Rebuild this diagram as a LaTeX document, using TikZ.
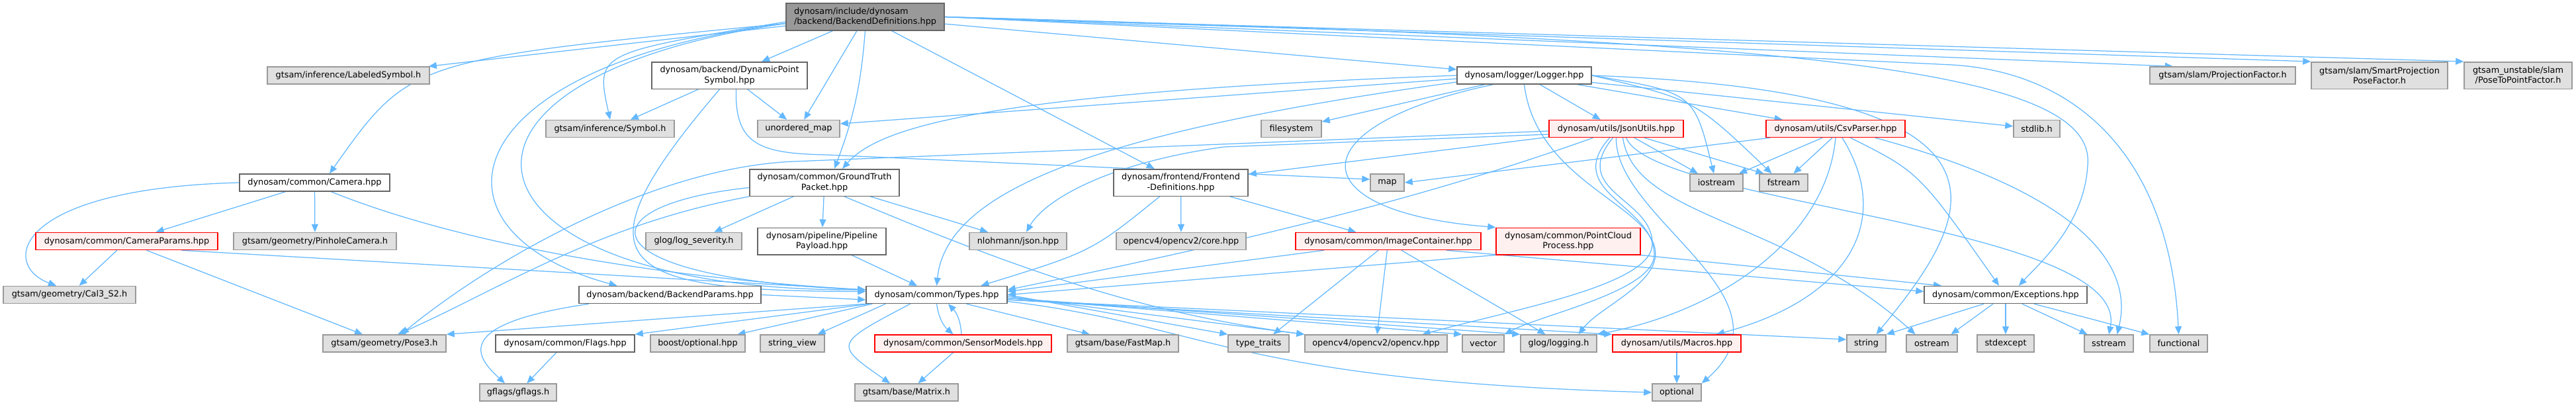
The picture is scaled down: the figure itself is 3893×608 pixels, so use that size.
\documentclass[tikz,border=0pt]{standalone}
\usepackage{fontspec}
\setmainfont{DejaVu Sans}
\usetikzlibrary{arrows.meta}
\definecolor{edgeblue}{HTML}{63B8FF}
\definecolor{boxgray}{HTML}{E0E0E0}
\definecolor{linegray}{HTML}{999999}
\definecolor{darkline}{HTML}{666666}
\definecolor{redfill}{HTML}{FFF0F0}
\pgfdeclarelayer{bg}
\pgfsetlayers{bg,main}
\tikzset{
  hdr/.style={draw, rectangle, inner sep=0pt, minimum height=5.2mm, line width=0.3mm,
    font=\fontsize{7.3pt}{8.6pt}\selectfont, align=center},
  sysfile/.style={hdr, draw=linegray, fill=boxgray},
  docfile/.style={hdr, draw=darkline, fill=white},
  undoc/.style={hdr, draw=red, fill=redfill},
  rootfile/.style={hdr, draw=darkline, fill=linegray},
  tall/.style={minimum height=8.1mm},
  bw/.style={minimum width=#1*0.2mm},
  dep/.style={draw=edgeblue, line width=0.25mm, -{Triangle[length=2.4mm,width=2mm]}}
}
\begin{document}
\begin{tikzpicture}[x=0.2mm,y=-0.2mm]
    \useasboundingbox (0,0) rectangle (3893,608);
    \node[rootfile,bw=239,minimum height=8.2mm,align=left] (r) at (1307.5,25.5) {dynosam/include/dynosam\\/backend/BackendDefinitions.hpp};
    \node[sysfile,bw=245] (labsym) at (526.5,114) {gtsam/inference/LabeledSymbol.h};
    \node[docfile,tall,bw=235] (dps) at (1102.5,114) {dynosam/backend/DynamicPoint\\Symbol.hpp};
    \node[docfile,bw=203] (logger) at (2303.5,114) {dynosam/logger/Logger.hpp};
    \node[sysfile,bw=220] (projfac) at (3359,114) {gtsam/slam/ProjectionFactor.h};
    \node[sysfile,tall,bw=206] (smartproj) at (3596,114) {gtsam/slam/SmartProjection\\PoseFactor.h};
    \node[sysfile,tall,bw=163] (posetopt) at (3805.5,114) {gtsam\_unstable/slam\\/PoseToPointFactor.h};
    \node[sysfile,bw=194] (symbol) at (922,194.5) {gtsam/inference/Symbol.h};
    \node[sysfile,bw=124] (umap) at (1207,194.5) {unordered\_map};
    \node[sysfile,bw=91] (filesys) at (1951.5,194.5) {filesystem};
    \node[undoc,bw=203] (jsonutils) at (2442.5,194.5) {dynosam/utils/JsonUtils.hpp};
    \node[undoc,bw=210] (csvparser) at (2774,194.5) {dynosam/utils/CsvParser.hpp};
    \node[sysfile,bw=70] (stdlib) at (3078,194.5) {stdlib.h};
    \node[docfile,bw=227] (camera) at (475.5,276) {dynosam/common/Camera.hpp};
    \node[docfile,tall,bw=226] (gtpacket) at (1246,276) {dynosam/common/GroundTruth\\Packet.hpp};
    \node[docfile,tall,bw=203] (frontend) at (1784.5,276) {dynosam/frontend/Frontend\\-Definitions.hpp};
    \node[sysfile,bw=51] (map) at (2096.5,276) {map};
    \node[sysfile,bw=80] (iostream) at (2594,276) {iostream};
    \node[sysfile,bw=73] (fstream) at (2695.5,276) {fstream};
    \node[undoc,bw=275] (camparams) at (191.5,364.5) {dynosam/common/CameraParams.hpp};
    \node[sysfile,bw=246] (pinhole) at (476,364.5) {gtsam/geometry/PinholeCamera.h};
    \node[sysfile,bw=145] (logsev) at (1048.5,364.5) {glog/log\_severity.h};
    \node[docfile,tall,bw=194] (pipeline) at (1242,364.5) {dynosam/pipeline/Pipeline\\Payload.hpp};
    \node[sysfile,bw=147] (nlohmann) at (1538.5,364.5) {nlohmann/json.hpp};
    \node[sysfile,bw=196] (cvcore) at (1785,364.5) {opencv4/opencv2/core.hpp};
    \node[undoc,bw=280] (imgcont) at (2098,364.5) {dynosam/common/ImageContainer.hpp};
    \node[undoc,tall,bw=218] (pcproc) at (2370,364.5) {dynosam/common/PointCloud\\Process.hpp};
    \node[sysfile,bw=200] (cal3) at (105,445.5) {gtsam/geometry/Cal3\_S2.h};
    \node[docfile,bw=275] (bparams) at (1012.5,445.5) {dynosam/backend/BackendParams.hpp};
    \node[docfile,bw=213] (types) at (1415.5,445.5) {dynosam/common/Types.hpp};
    \node[docfile,bw=246] (excepts) at (3031,445.5) {dynosam/common/Exceptions.hpp};
    \node[sysfile,bw=186] (pose3) at (581,519) {gtsam/geometry/Pose3.h};
    \node[docfile,bw=210] (flags) at (854,519) {dynosam/common/Flags.hpp};
    \node[sysfile,bw=143] (boostopt) at (1054.5,519) {boost/optional.hpp};
    \node[sysfile,bw=97] (strview) at (1197.5,519) {string\_view};
    \node[undoc,bw=267] (sensor) at (1455.5,519) {dynosam/common/SensorModels.hpp};
    \node[sysfile,bw=168] (fastmap) at (1697,519) {gtsam/base/FastMap.h};
    \node[sysfile,bw=92] (ttraits) at (1902,519) {type\_traits};
    \node[sysfile,bw=215] (opencv) at (2079.5,519) {opencv4/opencv2/opencv.hpp};
    \node[sysfile,bw=63] (vector) at (2241.5,519) {vector};
    \node[sysfile,bw=115] (glog) at (2355.5,519) {glog/logging.h};
    \node[undoc,bw=194] (macros) at (2534,519) {dynosam/utils/Macros.hpp};
    \node[sysfile,bw=59] (string) at (2820.5,519) {string};
    \node[sysfile,bw=77] (ostream) at (2919.5,519) {ostream};
    \node[sysfile,bw=86] (stdexcept) at (3031,519) {stdexcept};
    \node[sysfile,bw=74] (sstream) at (3187,519) {sstream};
    \node[sysfile,bw=87] (functional) at (3292.5,519) {functional};
    \node[sysfile,bw=116] (gflags) at (783,593) {gflags/gflags.h};
    \node[sysfile,bw=156] (matrix) at (1370,593) {gtsam/base/Matrix.h};
    \node[sysfile,bw=74] (optional) at (2534,593) {optional};
    \begin{pgfonlayer}{bg}
    \draw[dep] (r) -- (labsym);
    \draw[dep] ([yshift=-2mm]r.west) .. controls (620,90) .. ([xshift=4.5mm]camera.north);
    \draw[dep] ([yshift=-2mm]r.west) .. controls (680,100) and (630,350) .. ([xshift=-16mm]bparams.north);
    \draw[dep] ([yshift=-2mm]r.west) .. controls (600,120) and (680,440) .. ([yshift=1.5mm]types.west);
    \draw[dep] ([yshift=-1.5mm]r.west) .. controls (900,80) .. (symbol.north);
    \draw[dep] (r) -- (dps);
    \draw[dep] (r) -- (umap);
    \draw[dep] (r.south) to[bend left=8] ([xshift=3mm]gtpacket.north);
    \draw[dep] (r) -- (frontend);
    \draw[dep] (r) -- (logger);
    \draw[dep] (r.east) -- ([xshift=-15mm]projfac.north);
    \draw[dep] (r.east) -- (smartproj.north west);
    \draw[dep] (r.east) -- (posetopt.north west);
    \draw[dep] (r.east) -- (2950,98) .. controls (3150,110) and (3280,250) .. (functional.north);
    \draw[dep] (r.east) .. controls (2700,60) and (3170,100) .. (3155,250) .. controls (3150,340) and (3080,400) .. ([xshift=4mm]excepts.north);
    \draw[dep] (dps) -- (symbol);
    \draw[dep] (dps) -- (umap);
    \draw[dep] ([xshift=-3mm]dps.south) .. controls (860,400) and (930,440) .. ([yshift=1mm]types.west);
    \draw[dep] ([xshift=2mm]dps.south) .. controls (1110,220) and (1150,232) .. (1250,234) -- ([yshift=1mm]map.west);
    \draw[dep] (camera.west) .. controls (20,285) and (0,400) .. ([xshift=-4mm]cal3.north);
    \draw[dep] (camera) -- (camparams);
    \draw[dep] (camera) -- (pinhole);
    \draw[dep] ([xshift=5mm]camera.south) .. controls (700,370) and (1000,420) .. ([yshift=1.5mm]types.west);
    \draw[dep] (camparams) -- (cal3);
    \draw[dep] ([xshift=6mm]camparams.south) -- ([xshift=-6.6mm]pose3.north);
    \draw[dep] ([xshift=16.6mm]camparams.south) -- ([yshift=1.5mm]types.west);
    \draw[dep] (bparams.east) -- ([yshift=-1.5mm]types.west);
    \draw[dep] ([xshift=-24.5mm]bparams.south) .. controls (680,490) and (720,540) .. ([xshift=-4mm]gflags.north);
    \draw[dep] (flags) -- (gflags);
    \draw[dep] (gtpacket) -- (logsev);
    \draw[dep] (gtpacket) -- (pipeline);
    \draw[dep] (gtpacket) -- (nlohmann);
    \draw[dep] (gtpacket.south west) .. controls (900,340) and (750,440) .. ([xshift=4mm]pose3.north);
    \draw[dep] ([yshift=-1.5mm]gtpacket.west) .. controls (880,310) and (880,420) .. ([yshift=1.5mm]types.west);
    \draw[dep] ([xshift=6mm]gtpacket.south) .. controls (1500,390) and (1700,470) .. (opencv.north west);
    \draw[dep] (pipeline) -- (types);
    \draw[dep] ([xshift=-6.4mm]frontend.south) .. controls (1650,380) .. ([xshift=13.4mm]types.north);
    \draw[dep] (frontend) -- (cvcore);
    \draw[dep] (frontend) -- (imgcont);
    \draw[dep] ([xshift=-19.4mm]imgcont.south) -- ([yshift=1mm]types.east);
    \draw[dep] ([xshift=-3mm]imgcont.south) -- ([xshift=4.4mm]ttraits.north);
    \draw[dep] (imgcont) -- (opencv);
    \draw[dep] ([xshift=4mm]imgcont.south) -- ([xshift=-4mm]glog.north);
    \draw[dep] ([xshift=17.6mm]imgcont.south) -- ([yshift=1mm]excepts.west);
    \draw[dep] (pcproc.south west) -- (types.east);
    \draw[dep] (pcproc.south east) -- ([xshift=-19.4mm]excepts.north);
    \draw[dep] (logger.west) .. controls (1500,140) and (1330,190) .. ([xshift=5.4mm]gtpacket.north);
    \draw[dep] ([yshift=-1mm]logger.west) -- ([yshift=1.5mm]umap.east);
    \draw[dep] (logger) -- (filesys);
    \draw[dep] ([yshift=-2mm]logger.west) .. controls (1650,200) and (1430,290) .. (types.north);
    \draw[dep] (logger) -- (jsonutils);
    \draw[dep] (logger) -- (csvparser);
    \draw[dep] (logger.east) .. controls (2560,140) .. ([xshift=-0.8mm]iostream.north);
    \draw[dep] (logger.east) .. controls (2560,150) .. ([xshift=-3.6mm]fstream.north);
    \draw[dep] (logger) -- (stdlib);
    \draw[dep] (logger.east) .. controls (3100,140) and (2980,330) .. ([xshift=3mm]string.north);
    \draw[dep] ([xshift=-9.4mm]logger.south) .. controls (1960,190) and (1960,320) .. (pcproc.north west);
    \draw[dep] (logger.south) .. controls (2320,260) and (2460,300) .. (2495,360) .. controls (2530,420) and (2420,460) .. ([xshift=6mm]glog.north);
    \draw[dep] (jsonutils) -- (frontend);
    \draw[dep] ([yshift=-0.7mm]jsonutils.west) -- (1200,244) .. controls (1000,252) and (760,380) .. ([xshift=5mm]pose3.north);
    \draw[dep] ([yshift=-1.7mm]jsonutils.west) -- (1850,222) .. controls (1680,245) and (1580,300) .. ([xshift=2.5mm]nlohmann.north);
    \draw[dep] ([xshift=-7mm]jsonutils.south) .. controls (2150,300) and (1900,360) .. ([yshift=1.5mm]types.east);
    \draw[dep] ([xshift=5.5mm]jsonutils.south) -- ([xshift=-5.6mm]iostream.north);
    \draw[dep] ([xshift=8.5mm]jsonutils.south) -- ([xshift=-6mm]fstream.north);
    \draw[dep] (jsonutils.south) .. controls (2440,330) and (2720,450) .. (optional.north east);
    \draw[dep] ([xshift=2mm]jsonutils.south) .. controls (2470,330) and (2700,330) .. ([xshift=-5mm]ostream.north);
    \draw[dep] ([xshift=3mm]jsonutils.south) .. controls (2500,310) and (3220,340) .. (sstream.north);
    \draw[dep] ([xshift=-1mm]jsonutils.south) .. controls (2370,290) and (2500,300) .. (2497,370) .. controls (2494,430) and (2300,465) .. ([xshift=14mm]opencv.north);
    \draw[dep] ([xshift=-2mm]jsonutils.south) .. controls (2360,290) and (2500,310) .. (2500,385) .. controls (2500,440) and (2330,475) .. (vector.north east);
    \draw[dep] ([xshift=-19.8mm]csvparser.south) -- (map.east);
    \draw[dep] ([xshift=-4mm]csvparser.south) -- ([xshift=6.8mm]iostream.north);
    \draw[dep] ([xshift=-1mm]csvparser.south) -- ([xshift=3mm]fstream.north);
    \draw[dep] (csvparser.south) .. controls (2760,360) and (2600,470) .. (glog.north east);
    \draw[dep] ([xshift=2mm]csvparser.south) .. controls (2860,330) and (2800,450) .. ([xshift=12mm]macros.north);
    \draw[dep] ([xshift=4.5mm]csvparser.south) .. controls (2900,260) .. ([xshift=-2mm]excepts.north);
    \draw[dep] ([xshift=12mm]csvparser.south) .. controls (3100,280) and (3230,380) .. ([xshift=2.5mm]sstream.north);
    \draw[dep] ([xshift=-6.6mm]excepts.south) -- (string.north east);
    \draw[dep] ([xshift=-3.8mm]excepts.south) -- ([xshift=5.8mm]ostream.north);
    \draw[dep] (excepts) -- (stdexcept);
    \draw[dep] ([xshift=5mm]excepts.south) -- ([xshift=-6.5mm]sstream.north);
    \draw[dep] ([xshift=8.6mm]excepts.south) -- (functional.north west);
    \draw[dep] (types.south west) -- (pose3.north east);
    \draw[dep] ([xshift=1mm]types.south west) -- (flags.north east);
    \draw[dep] ([xshift=2mm]types.south west) -- ([xshift=12mm]boostopt.north);
    \draw[dep] ([xshift=6mm]types.south west) -- ([xshift=7.6mm]strview.north);
    \draw[dep] (types.south) to[bend right=20] ([xshift=-3mm]sensor.north);
    \draw[dep] ([xshift=-0.5mm]sensor.north) to[bend right=20] ([xshift=3.5mm]types.south);
    \draw[dep] ([xshift=-8mm]types.south) .. controls (1260,520) .. ([xshift=-5mm]matrix.north);
    \draw[dep] ([xshift=-3mm]sensor.south) -- ([xshift=3.5mm]matrix.north);
    \draw[dep] ([xshift=9mm]types.south) -- ([xshift=-10mm]fastmap.north);
    \draw[dep] (types.east) -- (ttraits.north west);
    \draw[dep] ([yshift=-0.5mm]types.east) -- (opencv.north west);
    \draw[dep] ([yshift=-1mm]types.east) -- (vector.north west);
    \draw[dep] ([yshift=-1mm]types.east) -- (glog.north west);
    \draw[dep] ([yshift=-1.5mm]types.east) -- (macros.north west);
    \draw[dep] ([yshift=-1.5mm]types.east) -- ([yshift=1.2mm]string.west);
    \draw[dep] ([yshift=-2mm]types.east) .. controls (1820,490) and (1860,575) .. (optional.west);
    \draw[dep] (macros) -- (optional);
    \end{pgfonlayer}
\end{tikzpicture}
\end{document}
